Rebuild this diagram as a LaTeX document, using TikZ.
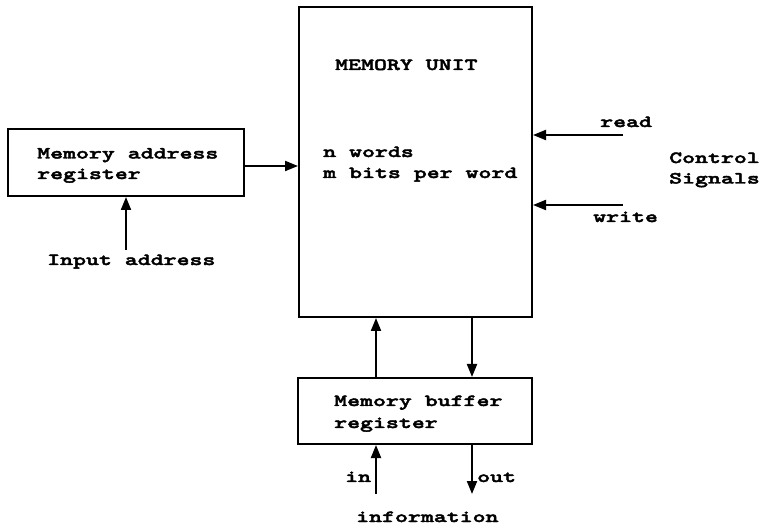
\documentclass[tikz,border=0pt]{standalone}
\usepackage{fontspec}
% heavy typewriter face, widened to the cell width of the labels
\newfontfamily\labelfont{lmmonolt10-bold}[Extension=.otf,FakeStretch=1.45,FakeBold=2.5]
\usetikzlibrary{arrows.meta}
\begin{document}
\begin{tikzpicture}[x=1pt,y=-1pt,
  every node/.style={font=\labelfont\fontsize{17}{21.5}\selectfont},
  blockbox/.style={draw,line width=2pt,rectangle,inner sep=0pt},
  txt/.style={anchor=base west,inner sep=0pt},
  arr/.style={line width=2pt,-{Triangle[length=13pt,width=10pt]}}]
\useasboundingbox (0,0) rectangle (761,529);

% blocks
\node[blockbox,minimum width=233pt,minimum height=310pt] (MU) at (415.5,162) {};
\node[blockbox,minimum width=236pt,minimum height=67pt] (MAR) at (126,162.5) {};
\node[blockbox,minimum width=234pt,minimum height=66pt] (MBR) at (415,411) {};

% texts inside the blocks
\node[txt] (mutitle) at (335,70) {MEMORY UNIT};
\node[txt] (muw) at (323,157) {n words};
\node[txt] (mub) at (323,178) {m bits per word};
\node[txt] (mar1) at (37,158.5) {Memory address};
\node[txt] (mar2) at (37,179) {register};
\node[txt] (mbr1) at (334,406) {Memory buffer};
\node[txt] (mbr2) at (334,428) {register};

% free ends of the signal lines
\coordinate (inaddr) at (126,250);
\coordinate (rdin) at (623,135);
\coordinate (wrin) at (623,205);
\coordinate (infoin) at (376,494);
\coordinate (infoout) at (472,494);

% connectors
\draw[arr] ([yshift=-3.5pt]MAR.east) -- ([yshift=-3.5pt]MAR.east -| MU.west);
\draw[arr] (inaddr) -- (MAR.south);
\draw[arr] (rdin) -- (rdin -| MU.east);
\draw[arr] (wrin) -- (wrin -| MU.east);
\draw[arr] ([xshift=-39pt]MBR.north) -- ([xshift=-39pt]MBR.north |- MU.south);
\draw[arr] ([xshift=57pt]MBR.north |- MU.south) -- ([xshift=57pt]MBR.north);
\draw[arr] (infoin) -- (infoin |- MBR.south);
\draw[arr] (infoout |- MBR.south) -- (infoout);

% signal labels
\node[txt] (inlbl) at (47,265) {Input address};
\node[txt] (rdlbl) at (600,127) {read};
\node[txt] (wrlbl) at (593,222) {write};
\node[txt] (cs1) at (669,163) {Control};
\node[txt] (cs2) at (669,183.5) {Signals};
\node[txt] (inl) at (345,482) {in};
\node[txt] (outl) at (477,482) {out};
\node[txt] (info) at (356,522) {information};
\end{tikzpicture}
\end{document}
